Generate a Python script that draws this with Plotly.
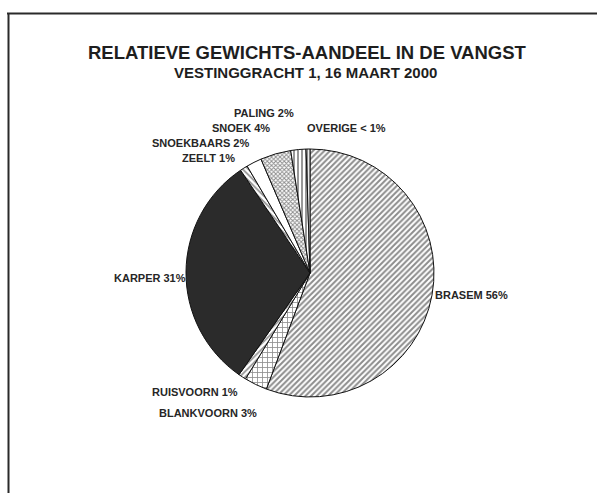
import plotly.graph_objects as go

# Catch composition by weight, Vestinggracht 1, 16 March 2000
species = ["BRASEM", "BLANKVOORN", "RUISVOORN", "KARPER", "ZEELT",
           "SNOEKBAARS", "SNOEK", "PALING", "OVERIGE"]
share_pct = [56, 3, 1, 31, 1, 2, 4, 2, 0.5]
share_text = ["56%", "3%", "1%", "31%", "1%", "2%", "4%", "2%", "< 1%"]

# Fill style per slice
fill_colors = ["white", "white", "white", "#2b2b2b", "white",
               "white", "white", "white", "white"]
pattern_shapes = ["/", "+", "/", "", "\\", "", "x", "|", "|"]
pattern_sizes = [4, 5, 4, 5, 4, 5, 3, 4, 3]
pattern_solid = [0.5, 0.3, 0.4, 0.3, 0.4, 0.3, 0.55, 0.45, 0.45]

W, H = 597, 493


def px(x):
    return x / W


def py(y):
    return 1 - y / H


# Pie placement (pixel centre and radius)
cx, cy, r = 310, 273, 124

fig = go.Figure(go.Pie(
    labels=species,
    values=share_pct,
    sort=False,
    direction="clockwise",
    rotation=0,
    textinfo="none",
    hoverinfo="label+percent",
    marker=dict(
        colors=fill_colors,
        line=dict(color="#111111", width=1),
        pattern=dict(shape=pattern_shapes, size=pattern_sizes,
                     solidity=pattern_solid, fgcolor="#1a1a1a",
                     fillmode="overlay"),
    ),
    domain=dict(x=[px(cx - r), px(cx + r)], y=[py(cy + r), py(cy - r)]),
))

# Slice label anchors (left edge x, middle y) in pixels
label_xy = {
    "BRASEM": (433, 295),
    "BLANKVOORN": (157, 413),
    "RUISVOORN": (150, 392),
    "KARPER": (112, 278),
    "ZEELT": (180, 158),
    "SNOEKBAARS": (150, 143),
    "SNOEK": (210, 128),
    "PALING": (232, 113),
    "OVERIGE": (305, 128),
}

label_font = dict(family="Liberation Sans, Arial", size=11, color="#262626")

annotations = []
for name, txt in zip(species, share_text):
    lx, ly = label_xy[name]
    annotations.append(dict(
        x=px(lx), y=py(ly), xref="paper", yref="paper",
        xanchor="left", yanchor="middle", showarrow=False,
        text=f"<b>{name} {txt}</b>",
        font=label_font,
    ))

annotations.append(dict(
    x=px(307), y=py(52), xref="paper", yref="paper",
    xanchor="center", yanchor="middle", showarrow=False,
    text="<b>RELATIEVE GEWICHTS-AANDEEL IN DE VANGST</b>",
    font=dict(family="Liberation Sans, Arial", size=18.5, color="#1e1e1e"),
))
annotations.append(dict(
    x=px(305), y=py(72), xref="paper", yref="paper",
    xanchor="center", yanchor="middle", showarrow=False,
    text="<b>VESTINGGRACHT 1, 16 MAART 2000</b>",
    font=dict(family="Liberation Sans, Arial", size=15, color="#1e1e1e"),
))

# Page frame lines (top and left)
shapes = [
    dict(type="line", xref="paper", yref="paper",
         x0=px(7), x1=1, y0=py(13.5), y1=py(13.5),
         line=dict(color="#2a2a2a", width=2)),
    dict(type="line", xref="paper", yref="paper",
         x0=px(8.5), x1=px(8.5), y0=py(13), y1=0,
         line=dict(color="#2a2a2a", width=2)),
]

fig.update_layout(
    width=W, height=H,
    margin=dict(l=0, r=0, t=0, b=0),
    paper_bgcolor="white",
    plot_bgcolor="white",
    showlegend=False,
    annotations=annotations,
    shapes=shapes,
)

fig.write_html("out.html")
